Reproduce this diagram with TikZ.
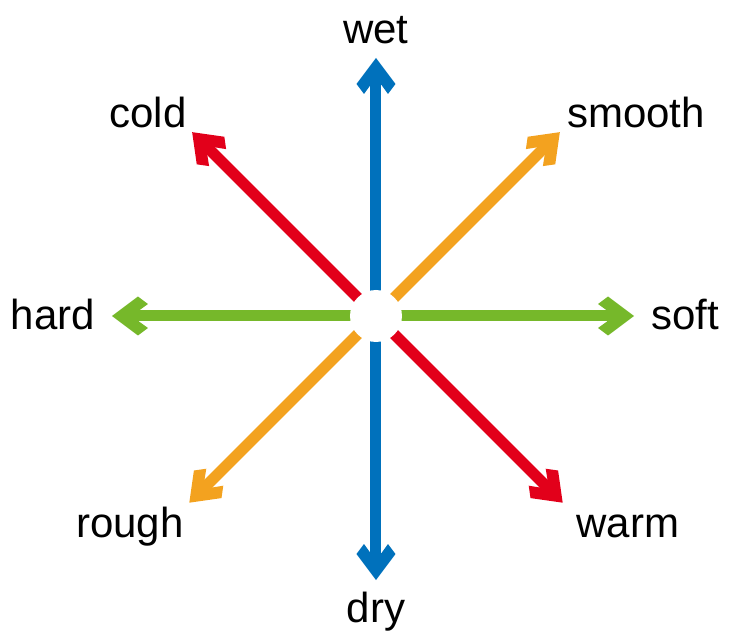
\documentclass[tikz,border=0pt]{standalone}
\usepackage{fontspec}
\setmainfont{Liberation Sans}
\usetikzlibrary{arrows.meta}
\definecolor{dirblue}{HTML}{0071BC}
\definecolor{dirred}{HTML}{E2001A}
\definecolor{dirorange}{HTML}{F3A21F}
\definecolor{dirgreen}{HTML}{76B82A}

% thick chevron head with square arm ends
\pgfdeclarearrow{
  name=Chevron,
  setup code={
    \pgfarrowssettipend{0pt}
    \pgfarrowssetlineend{-19pt}
    \pgfarrowssetbackend{-36pt}
    \pgfarrowsupperhullpoint{0pt}{0pt}
    \pgfarrowsupperhullpoint{-26pt}{19.5pt}
    \pgfarrowsupperhullpoint{-36pt}{12pt}
  },
  drawing code={
    \pgfpathmoveto{\pgfpointorigin}
    \pgfpathlineto{\pgfpoint{-26pt}{19.5pt}}
    \pgfpathlineto{\pgfpoint{-36pt}{12pt}}
    \pgfpathlineto{\pgfpoint{-27pt}{5.5pt}}
    \pgfpathlineto{\pgfpoint{-27pt}{-5.5pt}}
    \pgfpathlineto{\pgfpoint{-36pt}{-12pt}}
    \pgfpathlineto{\pgfpoint{-26pt}{-19.5pt}}
    \pgfpathclose
    \pgfusepathqfill
  }
}

\begin{document}
\begin{tikzpicture}[
  x=1pt, y=1pt,
  arr/.style={-Chevron, line width=11pt},
  lbl/.style={anchor=base, inner sep=0pt, font=\fontsize{42}{42}\selectfont},
]
  \useasboundingbox (-376,-316) rectangle (358,316);
  \coordinate (c) at (0,0);
  \coordinate (wetEnd) at (90:258);
  \coordinate (dryEnd) at (270:264);
  \coordinate (hardEnd) at (180:264);
  \coordinate (softEnd) at (0:258);
  \coordinate (coldEnd) at (135:260);
  \coordinate (smoothEnd) at (45:260);
  \coordinate (roughEnd) at (225:264);
  \coordinate (warmEnd) at (315:264);

  \draw[arr, dirblue] (c) -- (wetEnd);
  \draw[arr, dirblue] (c) -- (dryEnd);
  \draw[arr, dirgreen] (c) -- (hardEnd);
  \draw[arr, dirgreen] (c) -- (softEnd);
  \draw[arr, dirred] (c) -- (coldEnd);
  \draw[arr, dirred] (c) -- (warmEnd);
  \draw[arr, dirorange] (c) -- (smoothEnd);
  \draw[arr, dirorange] (c) -- (roughEnd);
  \node[circle, fill=white, minimum size=52pt, inner sep=0pt] (hub) at (c) {};

  \node[lbl] (wet) at (0,272) {wet};
  \node[lbl] (dry) at (0,-306) {dry};
  \node[lbl] (hard) at (-323,-14) {hard};
  \node[lbl] (soft) at (309,-14) {soft};
  \node[lbl] (cold) at (-228,188) {cold};
  \node[lbl] (smooth) at (260,188) {smooth};
  \node[lbl] (rough) at (-246,-221) {rough};
  \node[lbl] (warm) at (252,-221) {warm};
\end{tikzpicture}
\end{document}
